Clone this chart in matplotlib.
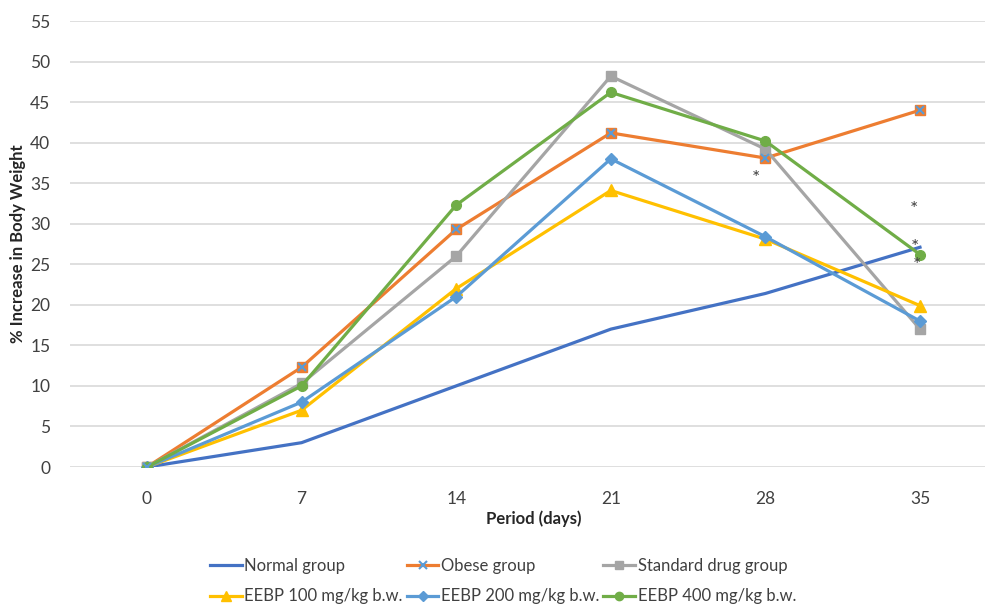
import matplotlib
matplotlib.use("Agg")
import matplotlib.pyplot as plt
from matplotlib.lines import Line2D

plt.rcParams["font.family"] = ["Lato", "DejaVu Sans"]

# Data
days = ["0", "7", "14", "21", "28", "35"]
normal = [0, 3, 10, 17, 21.4, 27.1]
obese = [0, 12.3, 29.3, 41.2, 38.1, 44.0]
standard = [0, 10.3, 26.0, 48.2, 39.2, 17.0]
eebp100 = [0, 7.0, 22.0, 34.1, 28.1, 19.9]
eebp200 = [0, 8.0, 21.0, 38.0, 28.4, 18.0]
eebp400 = [0, 10.0, 32.3, 46.2, 40.2, 26.2]

# significance asterisks (category position, value)
star_x = [3.94, 4.96, 4.97, 4.98]
star_y = [35.6, 31.8, 27.1, 24.8]

W, H = 985, 605
fig = plt.figure(figsize=(W / 100, H / 100), dpi=100)
left, bottom, top = 69.7, 467, 21
ax = fig.add_axes([left / W, 1 - bottom / H, 1 - left / W, (bottom - top) / H])

x = list(range(len(days)))
lw = 2.3
ax.plot(x, normal, color="#4472C4", lw=lw, zorder=3)
ax.plot(x, obese, color="#ED7D31", lw=lw, marker="s", ms=7, mec="#ED7D31", zorder=3)
ax.plot(x, obese, ls="none", marker="x", ms=6, mew=1.5, color="#5B9BD5", zorder=4)
ax.plot(x, standard, color="#A5A5A5", lw=lw, marker="s", ms=6.5, zorder=3)
ax.plot(x, eebp100, color="#FFC000", lw=lw, marker="^", ms=8, zorder=3)
ax.plot(x, eebp200, color="#5B9BD5", lw=lw, marker="D", ms=6, zorder=3)
ax.plot(x, eebp400, color="#70AD47", lw=lw, marker="o", ms=7, zorder=3)

for sx, sy in zip(star_x, star_y):
    ax.text(sx, sy, "*", ha="center", va="center", fontsize=14, color="#404040", zorder=5)

ax.set_xlim(-0.5, (W - 147) / 154.6)
ax.set_ylim(0, 55)
ax.set_xticks(x)
ax.set_xticklabels(days)
ax.set_yticks(range(0, 56, 5))
ax.tick_params(length=0, labelsize=12.5, colors="#404040")
ax.tick_params(axis="y", pad=14)
ax.tick_params(axis="x", pad=17)
ax.grid(True, axis="y", color="#D9D9D9", lw=1.2)
ax.set_axisbelow(True)
for s in ax.spines.values():
    s.set_visible(False)

fig.text(533.5 / W, 1 - 519 / H, "Period (days)", ha="center", va="center",
         fontsize=12, fontweight="bold", color="#262626")
fig.text(18 / W, 1 - 244 / H, "% Increase in Body Weight", ha="center", va="center",
         rotation=90, fontsize=12, fontweight="bold", color="#262626")

# Legend with proxy handles
handles = [
    Line2D([], [], color="#4472C4", lw=lw),
    Line2D([], [], color="#FFC000", lw=lw, marker="^", ms=7),
    Line2D([], [], color="#ED7D31", lw=lw, marker="x", ms=6, mec="#5B9BD5", mew=1.5),
    Line2D([], [], color="#5B9BD5", lw=lw, marker="D", ms=5),
    Line2D([], [], color="#A5A5A5", lw=lw, marker="s", ms=6),
    Line2D([], [], color="#70AD47", lw=lw, marker="o", ms=6),
]
labels = ["Normal group", "EEBP 100 mg/kg b.w.", "Obese group",
          "EEBP 200 mg/kg b.w.", "Standard drug group", "EEBP 400 mg/kg b.w."]
fig.legend(handles, labels, ncol=3, loc="center", bbox_to_anchor=(503 / W, 1 - 581 / H),
           frameon=False, fontsize=12, handlelength=1.9, handletextpad=0.15,
           columnspacing=0.25, labelspacing=0.9, labelcolor="#404040")

fig.savefig("out.png", dpi=100)
